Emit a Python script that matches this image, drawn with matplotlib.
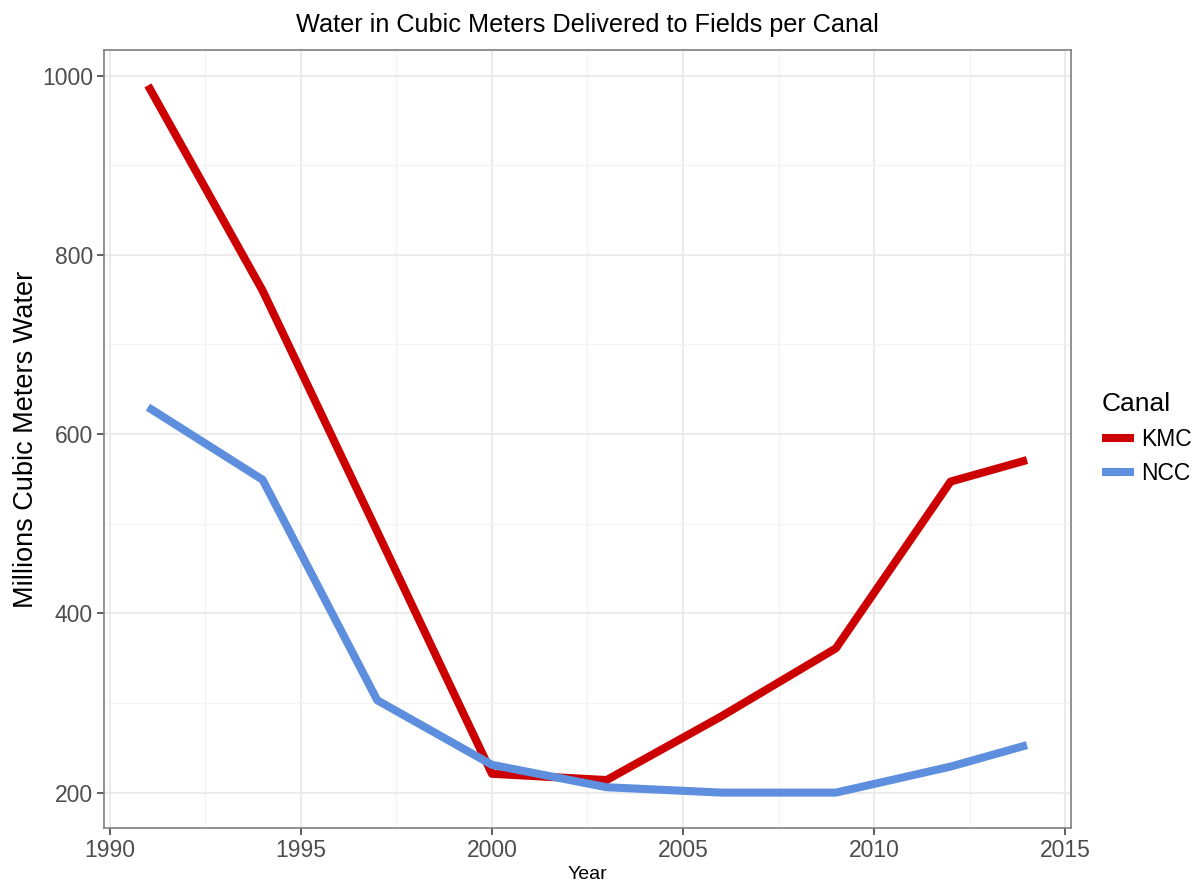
import matplotlib
matplotlib.use("Agg")
import matplotlib.pyplot as plt
from matplotlib.ticker import MultipleLocator

plt.rcParams['font.family'] = ['Liberation Sans', 'DejaVu Sans']

years_kmc = [1991, 1994, 1997, 2000, 2003, 2006, 2009, 2012, 2014]
kmc = [989, 760, 491, 221, 214, 285, 361, 547, 571]
years_ncc = [1991, 1994, 1997, 2000, 2003, 2006, 2009, 2012, 2014]
ncc = [630, 549, 303, 231, 206, 200, 200, 229, 253]
series_names = ["KMC", "NCC"]
colors = ["#CC0000", "#5E8EDE"]

fig = plt.figure(figsize=(11.97, 8.81), dpi=100)
ax = fig.add_axes([0.0869, 0.0602, 0.8078, 0.8830])

ax.plot(years_kmc, kmc, color=colors[0], lw=5.8, label=series_names[0], solid_capstyle='butt', zorder=3)
ax.plot(years_ncc, ncc, color=colors[1], lw=5.8, label=series_names[1], solid_capstyle='butt', zorder=3)

allx = years_kmc + years_ncc
ally = kmc + ncc
xr = max(allx) - min(allx)
yr = max(ally) - min(ally)
ax.set_xlim(min(allx) - 0.05 * xr, max(allx) + 0.05 * xr)
ax.set_ylim(min(ally) - 0.05 * yr, max(ally) + 0.05 * yr)

ax.xaxis.set_major_locator(MultipleLocator(5))
ax.xaxis.set_minor_locator(MultipleLocator(2.5))
ax.yaxis.set_major_locator(MultipleLocator(200))
ax.yaxis.set_minor_locator(MultipleLocator(100))

ax.grid(which='major', color='#EBEBEB', lw=1.5, zorder=0)
ax.grid(which='minor', color='#F3F3F3', lw=0.9, zorder=0)
ax.set_axisbelow(True)

for s in ax.spines.values():
    s.set_color('#7F7F7F')
    s.set_linewidth(1.2)

ax.tick_params(which='major', direction='out', length=5, width=1.1, color='#333333',
               labelsize=16.5, labelcolor='#4D4D4D', pad=3)
ax.tick_params(which='minor', length=0)

ax.set_title("Water in Cubic Meters Delivered to Fields per Canal", fontsize=18.2, color='black', pad=13)
ax.set_xlabel("Year", fontsize=14, labelpad=3)
ax.set_ylabel("Millions Cubic Meters Water", fontsize=19.5, labelpad=2)

leg = ax.legend(title="Canal", loc='upper left', bbox_to_anchor=(0.913, 0.565),
                bbox_transform=fig.transFigure, frameon=False, fontsize=16.5,
                title_fontsize=19, handlelength=1.4, handletextpad=0.3,
                labelspacing=0.5, alignment='left', borderaxespad=0)

fig.savefig("out.png", dpi=100)
